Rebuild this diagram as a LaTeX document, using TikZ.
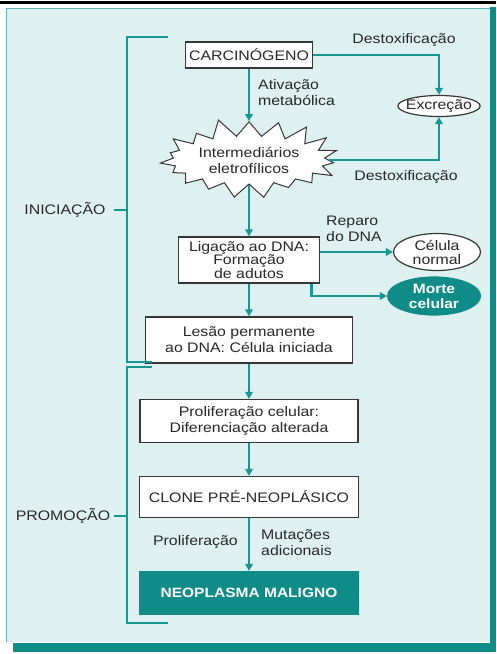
\documentclass[tikz,border=0pt]{standalone}
\usepackage{fontspec}
\setmainfont[FakeStretch=1.15]{Liberation Sans}
\usepackage{tikz}
\usetikzlibrary{arrows.meta, shapes.geometric, shapes.symbols}
\usepackage{xcolor}
\definecolor{panelbg}{RGB}{222,241,240}
\definecolor{tealline}{RGB}{24,150,146}
\definecolor{tealfill}{RGB}{16,140,136}
\definecolor{boxline}{RGB}{55,55,55}
\definecolor{txtcol}{RGB}{40,40,40}
\tikzset{
  box/.style={rectangle, draw=boxline, fill=white, line width=1.2pt,
    align=center, inner sep=1pt, text=txtcol},
  boxT/.style={box, fill=tealfill, draw=tealfill, text=white,
    font=\fontsize{13.5}{16}\selectfont\bfseries},
  ovl/.style={ellipse, draw=boxline, fill=white, line width=1.2pt,
    align=center, inner sep=0pt, text=txtcol},
  ovlT/.style={ovl, fill=tealfill, draw=tealfill, text=white,
    font=\fontsize{13.5}{15}\selectfont\bfseries},
  lbl/.style={align=left, inner sep=0pt, text=txtcol},
  arr/.style={-{Triangle[length=7pt,width=7.5pt]}, line width=2.8pt, draw=tealline},
  brk/.style={line width=2.2pt, draw=tealline},
}

\begin{document}
\begin{tikzpicture}[x=1pt, y=-1pt, font=\fontsize{13.8}{16}\selectfont]
  \useasboundingbox (0,0) rectangle (496,654);

  % Panel and shadow
  \fill[black] (0,1) rectangle (496,4);
  \fill[panelbg] (6,8) rectangle (490,642);
  \draw[tealline!70, line width=1pt] (6,642) -- (6,8) -- (490,8);
  \fill[tealfill] (490,7) rectangle (496,652);
  \fill[tealfill] (13,643) rectangle (496,652);

  % Main column
  \node[box, minimum width=127pt, minimum height=26pt] (carc) at (249,55)
       {CARCINÓGENO};
  \node[starburst, draw=boxline, fill=white, line width=1pt, align=center,
        text=txtcol, minimum width=172pt, minimum height=86pt,
        starburst points=19, starburst point height=19pt,
        random starburst=11] (inter) at (249,160)
       {Intermediários\\eletrofílicos};
  \node[box, minimum width=141pt, minimum height=46pt,
        font=\fontsize{13.8}{12.5}\selectfont] (lig) at (249,260)
       {Ligação ao DNA:\\Formação\\de adutos};
  \node[box, minimum width=207pt, minimum height=46pt] (lesao) at (249,340)
       {Lesão permanente\\ao DNA: Célula iniciada};
  \node[box, minimum width=218pt, minimum height=43pt] (prolif) at (249,421)
       {Proliferação celular:\\Diferenciação alterada};
  \node[box, minimum width=219pt, minimum height=41pt] (clone) at (249,497)
       {CLONE PRÉ-NEOPLÁSICO};
  \node[boxT, minimum width=218pt, minimum height=43pt] (neo) at (249,593)
       {NEOPLASMA MALIGNO};

  % Side outcomes
  \node[ovl, inner xsep=-4pt, minimum height=21pt] (excr) at (439,106)
       {Excreção};
  \node[ovl, minimum width=87pt, minimum height=37pt, inner ysep=-3pt,
        font=\fontsize{13.8}{14}\selectfont] (normal) at (437,252)
       {Célula\\normal};
  \node[ovlT, minimum width=93pt, minimum height=38pt, inner ysep=-3pt]
       (morte) at (434,296) {Morte\\celular};

  % Connectors
  \draw[arr] (carc.south) -- (carc.south |- inter.north);
  \draw[arr] (carc.east) -| (excr.north);
  \draw[arr] (inter.east) -| (excr.south);
  \draw[arr] (lig.north |- inter.south) -- (lig.north);
  \draw[arr] (lig.east |- normal) -- (normal.west);
  \draw[arr] ([xshift=-9pt]lig.south east) |- (morte.west);
  \draw[arr] (lig.south) -- (lesao.north);
  \draw[arr] (lesao.south) -- (prolif.north);
  \draw[arr] (prolif.south) -- (clone.north);
  \draw[arr] (clone.south) -- (neo.north);

  % Connector labels
  \node[lbl] (dtx1) at (404,40) {Destoxificação};
  \node[lbl, anchor=west] (ativ) at (258,93) {Ativação\\metabólica};
  \node[lbl] (dtx2) at (406,177) {Destoxificação};
  \node[lbl, anchor=west] (rep) at (326,229) {Reparo\\do DNA};
  \node[lbl, anchor=east] (prl) at (238,542) {Proliferação};
  \node[lbl, anchor=west] (mut) at (261,543) {Mutações\\adicionais};

  % Stage brackets
  \coordinate (iniA) at (168,37);
  \coordinate (iniB) at (127,37);
  \coordinate (iniC) at (127,362);
  \coordinate (iniD) at (152,362);
  \coordinate (proA) at (152,367);
  \coordinate (proB) at (127,367);
  \coordinate (proC) at (127,623);
  \coordinate (proD) at (168,623);
  \draw[brk] (iniA) -- (iniB) -- (iniC) -- (iniD);
  \draw[brk] (proA) -- (proB) -- (proC) -- (proD);

  \node[lbl] (ini) at (65,210) {INICIAÇÃO};
  \node[lbl] (pro) at (63,516) {PROMOÇÃO};
  \coordinate (iniT) at (127,210);
  \coordinate (proT) at (127,516);
  \draw[brk] ([xshift=8pt]ini.east) -- (iniT);
  \draw[brk] ([xshift=4pt]pro.east) -- (proT);
\end{tikzpicture}
\end{document}
